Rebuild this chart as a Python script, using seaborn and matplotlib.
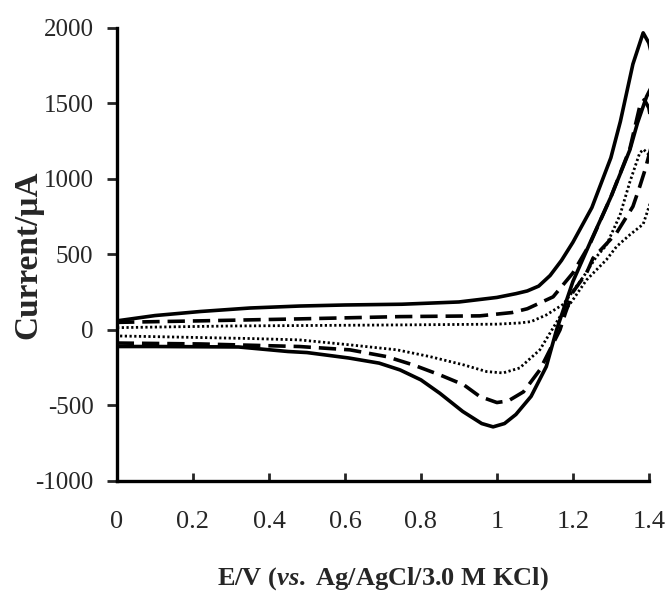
import matplotlib
matplotlib.use("Agg")
import matplotlib.pyplot as plt
import seaborn as sns
import pandas as pd

# ---- data ----
E_solid = [0.0, 0.1, 0.22, 0.35, 0.48, 0.6, 0.75, 0.9, 1.0, 1.05, 1.08, 1.11, 1.14, 1.17, 1.2, 1.25,
           1.3, 1.325, 1.358, 1.385, 1.40, 1.41, 1.413, 1.405, 1.394, 1.37, 1.35, 1.30, 1.245, 1.20,
           1.157, 1.13, 1.09, 1.05, 1.02, 0.99, 0.96, 0.91, 0.85, 0.80, 0.745, 0.69, 0.61, 0.5,
           0.45, 0.32, 0.1, 0.0, 0.0]
I_solid = [60, 95, 122, 145, 158, 165, 170, 185, 215, 240, 258, 290, 360, 460, 580, 810,
           1140, 1380, 1760, 1967, 1900, 1800, 1680, 1600, 1545, 1370, 1192, 880, 576, 320,
           0, -243, -440, -560, -620, -642, -620, -540, -420, -331, -265, -220, -186, -150,
           -143, -113, -110, -110, 60]

E_dash = [0.0, 0.22, 0.48, 0.745, 0.955, 1.04, 1.08, 1.148, 1.2, 1.245, 1.30, 1.35, 1.376, 1.388,
          1.40, 1.41, 1.405, 1.39, 1.376, 1.358, 1.315, 1.253, 1.236, 1.2, 1.18, 1.166, 1.113,
          1.07, 1.03, 1.0, 0.955, 0.913, 0.85, 0.78, 0.71, 0.613, 0.48, 0.22, 0.0, 0.0]
I_dash = [50, 60, 73, 88, 93, 115, 140, 219, 377, 570, 880, 1200, 1480, 1525,
          1470, 1330, 1200, 1060, 949, 817, 642, 475, 377, 250, 110, 0, -265,
          -410, -470, -481, -441, -364, -298, -232, -177, -132, -110, -93, -87, 50]

E_dot = [0.0, 0.3, 0.745, 1.0, 1.06, 1.09, 1.13, 1.175, 1.228, 1.262, 1.288, 1.324, 1.35, 1.376,
         1.386, 1.40, 1.41, 1.405, 1.385, 1.35, 1.315, 1.288, 1.236, 1.2, 1.175, 1.166, 1.113,
         1.06, 1.016, 0.973, 0.913, 0.824, 0.737, 0.613, 0.48, 0.35, 0.087, 0.0, 0.0]
I_dot = [15, 26, 33, 38, 46, 55, 99, 170, 353, 485, 560, 760, 980, 1172,
         1195, 1160, 1040, 850, 700, 630, 552, 464, 331, 199, 112, 88, -132,
         -252, -285, -276, -232, -177, -132, -99, -66, -57, -44, -40, 15]

x_ticks = [0, 0.2, 0.4, 0.6, 0.8, 1.0, 1.2, 1.4]
x_tick_labels = ["0", "0.2", "0.4", "0.6", "0.8", "1", "1.2", "1.4"]
y_ticks = [-1000, -500, 0, 500, 1000, 1500, 2000]
y_tick_labels = ["-1000", "-500", "0", "500", "1000", "1500", "2000"]

sns.set_style("ticks")
plt.rcParams["font.family"] = ["Liberation Serif", "DejaVu Serif"]
plt.rcParams["mathtext.fontset"] = "custom"
plt.rcParams["mathtext.it"] = "Liberation Serif:italic:bold"
plt.rcParams["mathtext.rm"] = "Liberation Serif:bold"

fig = plt.figure(figsize=(6.71, 5.93), dpi=100)
ax = fig.add_axes([0.1744, 0.189, 0.7926, 0.764])

df_s = pd.DataFrame({"E": E_solid, "I": I_solid})
df_d = pd.DataFrame({"E": E_dash, "I": I_dash})
df_o = pd.DataFrame({"E": E_dot, "I": I_dot})

sns.lineplot(data=df_s, x="E", y="I", sort=False, estimator=None, color="black",
             linewidth=2.6, ax=ax)
l2 = sns.lineplot(data=df_d, x="E", y="I", sort=False, estimator=None, color="black",
                  linewidth=2.6, ax=ax).lines[-1]
l2.set_dashes((4.8, 2.2))
l3 = sns.lineplot(data=df_o, x="E", y="I", sort=False, estimator=None, color="black",
                  linewidth=2.0, ax=ax).lines[-1]
l3.set_dashes((0.8, 0.9))

ax.set_xlim(0, 1.4)
ax.set_ylim(-1000, 2000)
ax.set_xticks(x_ticks)
ax.set_xticklabels(x_tick_labels)
ax.set_yticks(y_ticks)
ax.set_yticklabels(y_tick_labels)
ax.set_xlabel("")
ax.set_ylabel("")

for side in ["top", "right"]:
    ax.spines[side].set_visible(False)
for side in ["left", "bottom"]:
    ax.spines[side].set_linewidth(2.4)
    ax.spines[side].set_color("black")

ax.tick_params(axis="x", direction="in", length=6, width=2.0, labelsize=19, pad=22)
ax.tick_params(axis="y", direction="out", length=7, width=2.0, labelsize=18, pad=10)

fig.text(383 / 671, 1 - 579 / 593, r"E/V ($\mathit{vs.}$ Ag/AgCl/3.0 M KCl)", fontsize=19,
         fontweight="bold", ha="center", va="center")
fig.text(28 / 671, 1 - 255 / 593, "Current/μA", fontsize=24, fontweight="bold",
         rotation=90, ha="center", va="center")

fig.savefig("out.png", dpi=100)
